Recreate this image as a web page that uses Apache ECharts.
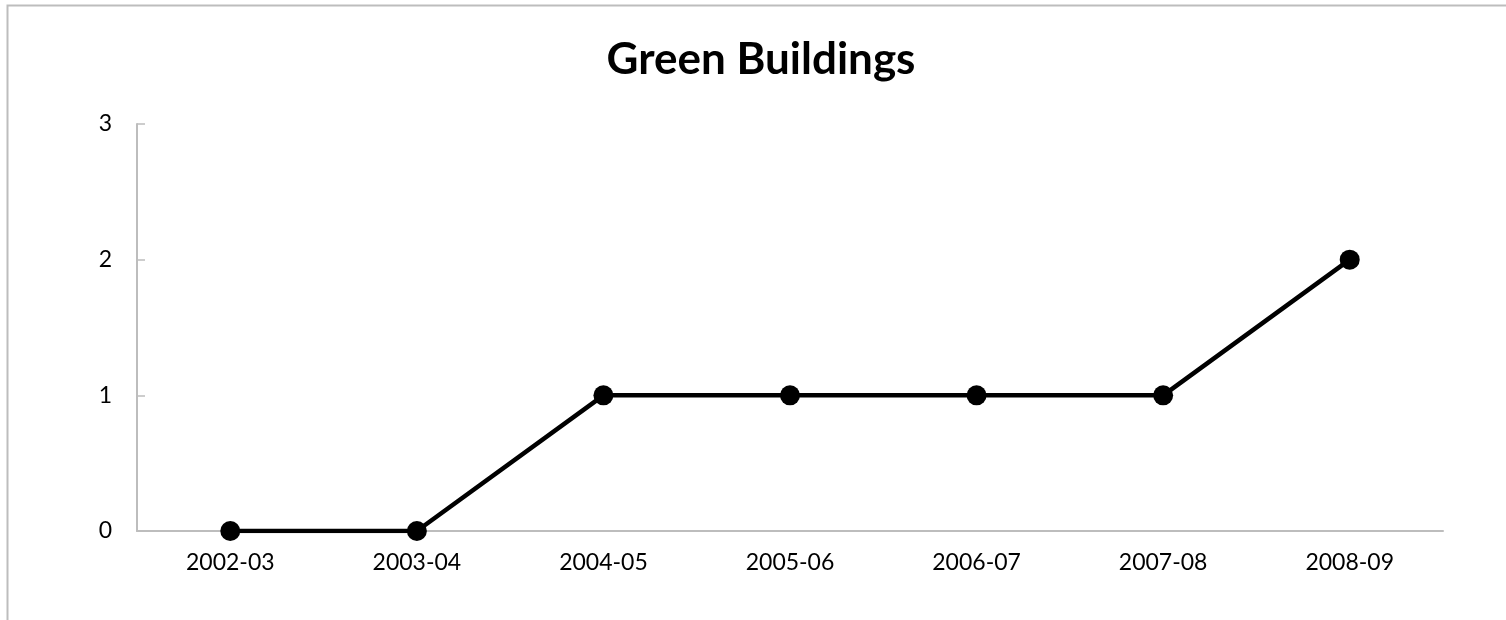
<!DOCTYPE html>
<html>
<head>
<meta charset="utf-8">
<script src="https://cdn.jsdelivr.net/npm/echarts@6/dist/echarts.min.js"></script>
<style>
html,body{margin:0;padding:0;background:#fff;}
#chart{width:1506px;height:620px;}
</style>
</head>
<body>
<div id="chart"></div>
<script>
const titleText = 'Green Buildings';
const categories = ['2002-03','2003-04','2004-05','2005-06','2006-07','2007-08','2008-09'];
const values = [0, 0, 1, 1, 1, 1, 2];
const yMin = 0, yMax = 3, yStep = 1;

const chart = echarts.init(document.getElementById('chart'), null, {renderer: 'canvas'});
chart.setOption({
  backgroundColor: '#ffffff',
  animation: false,
  title: {
    text: titleText,
    left: 756,
    textAlign: 'center',
    top: 33,
    textStyle: {fontFamily: 'Lato', fontWeight: 'bold', fontSize: 44, color: '#000'}
  },
  graphic: [{
    type: 'rect',
    shape: {x: 7.5, y: 5.5, width: 1600, height: 800},
    style: {fill: 'none', stroke: '#bdbdbd', lineWidth: 2},
    silent: true
  }],
  grid: {left: 137, right: 63, top: 124, bottom: 89, containLabel: false},
  xAxis: {
    type: 'category',
    data: categories,
    boundaryGap: true,
    axisLine: {lineStyle: {color: '#bdbdbd', width: 2}},
    axisTick: {show: false},
    axisLabel: {color: '#000', fontFamily: 'Lato', fontSize: 23, margin: 20},
    splitLine: {show: false}
  },
  yAxis: {
    type: 'value',
    min: yMin, max: yMax, interval: yStep,
    axisLine: {show: true, lineStyle: {color: '#bdbdbd', width: 2}},
    axisTick: {show: true, inside: true, length: 8, lineStyle: {color: '#bdbdbd', width: 1.5}},
    axisLabel: {color: '#000', fontFamily: 'Lato', fontSize: 23, margin: 25},
    splitLine: {show: false}
  },
  series: [{
    type: 'line',
    data: values,
    symbol: 'circle',
    symbolSize: 20,
    lineStyle: {color: '#000', width: 4.5},
    itemStyle: {color: '#000'}
  }]
});
</script>
</body>
</html>
